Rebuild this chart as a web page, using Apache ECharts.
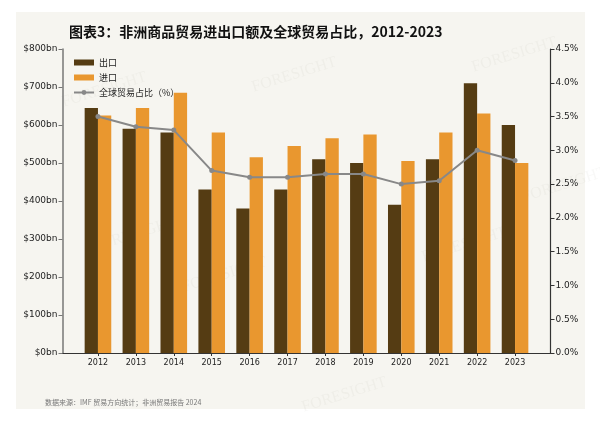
<!DOCTYPE html>
<html>
<head>
<meta charset="utf-8">
<script src="https://cdn.jsdelivr.net/npm/echarts@6/dist/echarts.min.js"></script>
<style>
  html, body { margin: 0; padding: 0; background: #ffffff; }
  #chart { width: 600px; height: 423px; }
</style>
</head>
<body>
<div id="chart"></div>
<script>
// 年份
var years = ['2012', '2013', '2014', '2015', '2016', '2017', '2018', '2019', '2020', '2021', '2022', '2023']
// 出口 / 进口 (十亿美元)
var exports = [645, 590, 580, 430, 380, 430, 510, 500, 390, 510, 710, 600]
var imports = [625, 645, 685, 580, 515, 545, 565, 575, 505, 580, 630, 500]
// 全球贸易占比 (%)
var share = [3.5, 3.35, 3.3, 2.7, 2.6, 2.6, 2.65, 2.65, 2.5, 2.55, 3.0, 2.85]

var font = '"Noto Sans CJK SC", "Noto Sans", sans-serif'
var numFont = '"DejaVu Sans", sans-serif'
var chart = echarts.init(document.getElementById('chart'))

// 水印
var marks = [[60, 95], [250, 80], [470, 60], [180, 280], [420, 250], [300, 400], [90, 240], [520, 190]]
var watermark = marks.map(function (p) {
  return {
    type: 'text',
    x: p[0],
    y: p[1],
    rotation: 0.3,
    style: { text: 'FORESIGHT', fill: 'rgba(120,110,90,0.05)', font: '16px "Liberation Serif", serif' }
  }
})

chart.setOption({
  backgroundColor: '#ffffff',
  textStyle: { fontFamily: font },
  graphic: [
    { type: 'rect', z: -10, shape: { x: 16, y: 12, width: 569, height: 397 }, style: { fill: '#f6f5f0' } },
    {
      type: 'text', left: 69, top: 25,
      style: { text: '图表3：非洲商品贸易进出口额及全球贸易占比，2012-2023', fill: '#111', font: 'bold 14px ' + font }
    },
    {
      type: 'text', left: 45, top: 399,
      style: { text: '数据来源：IMF 贸易方向统计；非洲贸易报告 2024', fill: '#777', font: '7px ' + font }
    }
  ].concat(watermark),
  legend: {
    orient: 'vertical',
    left: 68,
    top: 53,
    itemWidth: 20,
    itemHeight: 6,
    itemGap: 6,
    textStyle: { fontSize: 9, color: '#222', fontFamily: font },
    data: [
      { name: '出口', icon: 'rect' },
      { name: '进口', icon: 'rect' },
      { name: '全球贸易占比（%）' }
    ]
  },
  grid: [
    // 坐标轴外框
    { left: 62.5, right: 49.5, top: 49, bottom: 70 },
    // 数据区
    { left: 79, right: 66, top: 49, bottom: 70 }
  ],
  xAxis: [
    {
      gridIndex: 0,
      type: 'value',
      min: 0,
      max: 1,
      axisLine: { show: true, lineStyle: { color: '#333', width: 1.2 } },
      axisTick: { show: false },
      axisLabel: { show: false },
      splitLine: { show: false }
    },
    {
      gridIndex: 1,
      type: 'category',
      data: years,
      axisLine: { show: false },
      axisTick: { show: true, alignWithLabel: true, length: 3, lineStyle: { color: '#333' } },
      axisLabel: { fontSize: 8, color: '#222', margin: 6, fontFamily: numFont }
    }
  ],
  yAxis: [
    {
      gridIndex: 0,
      type: 'value',
      min: 0,
      max: 800,
      interval: 100,
      axisLine: { show: true, lineStyle: { color: '#777', width: 1.5 } },
      axisTick: { show: true, length: 4, lineStyle: { color: '#777' } },
      axisLabel: { fontSize: 9, color: '#222', margin: 5, fontFamily: numFont, formatter: function (v) { return '$' + v + 'bn' } },
      splitLine: { show: false }
    },
    {
      gridIndex: 0,
      type: 'value',
      position: 'right',
      min: 0,
      max: 4.5,
      interval: 0.5,
      axisLine: { show: true, lineStyle: { color: '#333', width: 1.2 } },
      axisTick: { show: true, length: 4, lineStyle: { color: '#333' } },
      axisLabel: { fontSize: 9, color: '#222', margin: 5, fontFamily: numFont, formatter: function (v) { return v.toFixed(1) + '%' } },
      splitLine: { show: false }
    },
    {
      gridIndex: 1,
      type: 'value',
      min: 0,
      max: 800,
      show: false
    },
    {
      gridIndex: 1,
      type: 'value',
      min: 0,
      max: 4.5,
      show: false
    }
  ],
  series: [
    {
      name: '出口',
      type: 'bar',
      xAxisIndex: 1,
      yAxisIndex: 2,
      data: exports,
      barWidth: 13.3,
      barGap: '0%',
      itemStyle: { color: '#553c13' }
    },
    {
      name: '进口',
      type: 'bar',
      xAxisIndex: 1,
      yAxisIndex: 2,
      data: imports,
      barWidth: 13.3,
      barGap: '0%',
      itemStyle: { color: '#e9972f' }
    },
    {
      name: '全球贸易占比（%）',
      type: 'line',
      xAxisIndex: 1,
      yAxisIndex: 3,
      data: share,
      symbol: 'circle',
      symbolSize: 5,
      lineStyle: { color: '#888', width: 2 },
      itemStyle: { color: '#888' },
      z: 5
    }
  ]
})
</script>
</body>
</html>
